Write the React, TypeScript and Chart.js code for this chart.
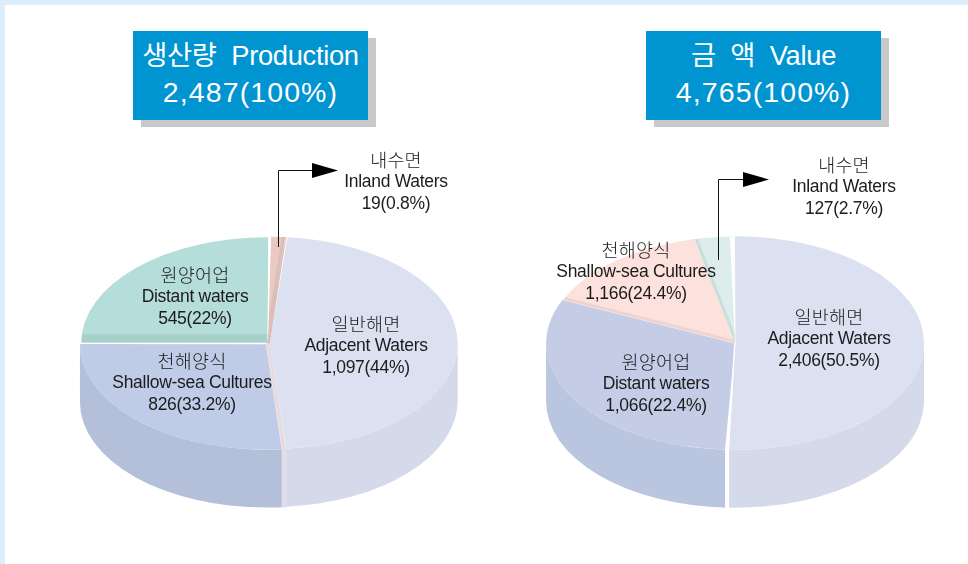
import React, { useEffect, useRef } from "react";
import { Chart, registerables } from "chart.js";

Chart.register(...registerables);

// Categories and printed figures, as they read in the picture.
const productionLabels = ["Adjacent Waters", "Shallow-sea Cultures", "Distant waters", "Inland Waters"];
const valueLabels = ["Adjacent Waters", "Distant waters", "Shallow-sea Cultures", "Inland Waters"];
const productionPrinted = ["1,097(44%)", "826(33.2%)", "545(22%)", "19(0.8%)"];
const valuePrinted = ["2,406(50.5%)", "1,066(22.4%)", "1,166(24.4%)", "127(2.7%)"];
const productionKorean = ["일반해면", "천해양식", "원양어업", "내수면"];
const valueKorean = ["일반해면", "원양어업", "천해양식", "내수면"];

// Slice sweeps in degrees as actually drawn in the picture
// (the printed source figure is not drawn to scale).
const productionSweep = [169.9, 95, 90.3, 4.8];
const valueSweep = [182.2, 112, 53.6, 12.2];

const FONT = '"Liberation Sans", "Noto Sans CJK KR", sans-serif';
const K = 0.566;
const DEPTH = 58;

type Wedge = { angle: number; w: number; from: number; to: number; color: string; wall: string };
type Bevel = { index: number; edge: "start" | "end"; width: number; color: string };
type PieCfg = {
  cx: number;
  cy: number;
  radius: number;
  rotation: number;
  data: number[];
  labels: string[];
  colors: string[];
  walls: string[];
  offsets: number[];
  bevels: Bevel[];
  wedges: Wedge[];
};

const productionPie: PieCfg = {
  cx: 268,
  cy: 343,
  radius: 186,
  rotation: 5.2,
  data: productionSweep,
  labels: productionLabels,
  colors: ["#dce1f1", "#c0cce7", "#b5ddd9", "#e9c9c1"],
  walls: ["#d5daea", "#b4bfd9", "#a5cfcb", "#dcbdb8"],
  offsets: [2, 3, 1, 1],
  bevels: [
    { index: 2, edge: "start", width: 8, color: "#a6cfca" },
    { index: 3, edge: "end", width: 3, color: "#dcbdb8" },
  ],
  wedges: [
    { angle: 0.5, w: 3, from: 0, to: 0, color: "#ffffff", wall: "#ffffff" },
    { angle: 5.4, w: 1, from: -1, to: 2, color: "#dcbdb8", wall: "#ffffff" },
    { angle: 175.1, w: 4, from: -2, to: 2, color: "#e6dbe0", wall: "#e2dde6" },
  ],
};

const valuePie: PieCfg = {
  cx: 735,
  cy: 343,
  radius: 188,
  rotation: -0.2,
  data: valueSweep,
  labels: valueLabels,
  colors: ["#dce1f1", "#c5cde6", "#fde1dc", "#ddedec"],
  walls: ["#d5daea", "#bac5e0", "#eed2ce", "#c9dfde"],
  offsets: [0.5, 1, 0, 0],
  bevels: [
    { index: 2, edge: "start", width: 3, color: "#eed2ce" },
    { index: 3, edge: "start", width: 3, color: "#c9dfde" },
  ],
  wedges: [
    { angle: 359.2, w: 5, from: 0, to: 0, color: "#ffffff", wall: "#ffffff" },
    { angle: 182.4, w: 4, from: 0, to: 0, color: "#ffffff", wall: "#ffffff" },
  ],
};

const SIZE = 420;

// Where the arc element really paints a slice: it moves the slice by the
// offset and grows the radius by offset * (1 - sin(circumference)).
function sliceGeometry(a: any, off: number) {
  const mid = (a.startAngle + a.endAngle) / 2;
  const circ = a.endAngle - a.startAngle;
  const fix = 1 - Math.sin(Math.min(Math.PI, circ));
  return { dx: off * Math.cos(mid), dy: off * Math.sin(mid), R: a.outerRadius + off * fix };
}

function pie3dPlugin(cfg: PieCfg) {
  return {
    id: "pie3d",
    beforeDatasetsDraw(chart: any) {
      const ctx = chart.ctx;
      const arcs = chart.getDatasetMeta(0).data;
      ctx.save();
      arcs.forEach((a: any, i: number) => {
        const g = sliceGeometry(a, cfg.offsets[i]);
        const x = a.x + g.dx;
        const y = a.y + g.dy * K;
        for (const shift of [-2 * Math.PI, 0, 2 * Math.PI]) {
          const from = Math.max(a.startAngle, shift);
          const to = Math.min(a.endAngle, shift + Math.PI);
          if (to <= from) continue;
          ctx.beginPath();
          ctx.ellipse(x, y, g.R, g.R * K, 0, from, to);
          ctx.ellipse(x, y + DEPTH, g.R, g.R * K, 0, to, from, true);
          ctx.closePath();
          ctx.fillStyle = cfg.walls[i];
          ctx.fill();
        }
      });
      const py = arcs[0].y;
      ctx.translate(0, py);
      ctx.scale(1, K);
      ctx.translate(0, -py);
    },
    afterDatasetsDraw(chart: any) {
      const ctx = chart.ctx;
      const arcs = chart.getDatasetMeta(0).data;
      // cut faces along some slice edges
      cfg.bevels.forEach((b) => {
        const a = arcs[b.index];
        const g = sliceGeometry(a, cfg.offsets[b.index]);
        const x = a.x + g.dx;
        const y = a.y + g.dy;
        const ang = b.edge === "start" ? a.startAngle : a.endAngle;
        ctx.save();
        ctx.beginPath();
        ctx.moveTo(x, y);
        ctx.arc(x, y, g.R, a.startAngle, a.endAngle);
        ctx.closePath();
        ctx.clip();
        ctx.beginPath();
        ctx.moveTo(x, y);
        ctx.lineTo(x + g.R * Math.cos(ang), y + g.R * Math.sin(ang));
        const horizontalness = Math.abs(Math.cos(ang));
        ctx.lineWidth = (2 * b.width) / (horizontalness * K + (1 - horizontalness));
        ctx.strokeStyle = b.color;
        ctx.stroke();
        ctx.restore();
      });
      ctx.restore();
      // gaps and slivers between slices
      const a0 = arcs[0];
      const R = a0.outerRadius + cfg.offsets[0];
      cfg.wedges.forEach((wd) => {
        const t = (wd.angle * Math.PI) / 180;
        const px = a0.x + R * Math.sin(t);
        const py = a0.y - R * K * Math.cos(t);
        ctx.beginPath();
        ctx.moveTo(a0.x + wd.from, a0.y);
        ctx.lineTo(a0.x + wd.to, a0.y);
        ctx.lineTo(px + wd.w / 2, py);
        ctx.lineTo(px - wd.w / 2, py);
        ctx.closePath();
        ctx.fillStyle = wd.color;
        ctx.fill();
        if (Math.cos(t) < 0) {
          ctx.fillStyle = wd.wall;
          ctx.fillRect(px - wd.w / 2, py - 0.5, wd.w, DEPTH + 1);
        }
      });
    },
  };
}

function Pie({ cfg }: { cfg: PieCfg }) {
  const ref = useRef<HTMLCanvasElement | null>(null);
  useEffect(() => {
    const chart = new Chart(ref.current as HTMLCanvasElement, {
      type: "pie",
      data: {
        labels: cfg.labels,
        datasets: [
          {
            data: cfg.data,
            backgroundColor: cfg.colors,
            offset: cfg.offsets.map((o) => o * 4),
            borderWidth: 0,
            clip: false,
          } as any,
        ],
      },
      options: {
        responsive: false,
        animation: false,
        rotation: cfg.rotation,
        // the controller also takes half of the largest offset option off the radius
        layout: { padding: SIZE / 2 - cfg.radius - Math.max(...cfg.offsets) * 2 },
        events: [],
        plugins: { legend: { display: false }, tooltip: { enabled: false } },
      },
      plugins: [pie3dPlugin(cfg) as any],
    });
    return () => chart.destroy();
  }, [cfg]);
  return (
    <canvas
      ref={ref}
      width={SIZE}
      height={SIZE}
      style={{
        position: "absolute",
        left: cfg.cx - SIZE / 2,
        top: cfg.cy - SIZE / 2,
        width: SIZE,
        height: SIZE,
      }}
    />
  );
}

function Label({ x, y, lines }: { x: number; y: number; lines: string[] }) {
  return (
    <div
      style={{
        position: "absolute",
        left: x - 120,
        top: y,
        width: 240,
        textAlign: "center",
        fontFamily: FONT,
        fontSize: 17.5,
        lineHeight: "21.4px",
        letterSpacing: "-0.3px",
        color: "#1c1c1c",
      }}
    >
      <div style={{ fontSize: 18.5, fontWeight: 300, letterSpacing: "0.2px" }}>{lines[0]}</div>
      <div>{lines[1]}</div>
      <div>{lines[2]}</div>
    </div>
  );
}

function Title({ x, lines }: { x: number; lines: string[] }) {
  return (
    <>
      <div style={{ position: "absolute", left: x + 8, top: 38, width: 235, height: 89, background: "#c9c9c9" }} />
      <div
        style={{
          position: "absolute",
          left: x,
          top: 31,
          width: 235,
          height: 89,
          background: "#0094d0",
          color: "#ffffff",
          textAlign: "center",
          fontFamily: FONT,
          whiteSpace: "pre",
        }}
      >
        <div style={{ fontSize: 27.3, lineHeight: "31px", marginTop: 9, letterSpacing: "-0.3px" }}>{lines[0]}</div>
        <div style={{ fontSize: 28.5, lineHeight: "36px", marginTop: 3, letterSpacing: "1.1px" }}>{lines[1]}</div>
      </div>
    </>
  );
}

function Arrow({ x, y0, y1, x1 }: { x: number; y0: number; y1: number; x1: number }) {
  return (
    <svg style={{ position: "absolute", left: 0, top: 0 }} width={968} height={564}>
      <path d={`M${x + 0.5} ${y0} V${y1 + 0.5} H${x1}`} fill="none" stroke="#111" strokeWidth={1} />
      <polygon points={`${x1},${y1 - 7} ${x1 + 26},${y1 + 0.5} ${x1},${y1 + 8}`} fill="#000" />
    </svg>
  );
}

export default function App() {
  return (
    <div
      style={{
        position: "fixed",
        left: 0,
        top: 0,
        width: 968,
        height: 564,
        overflow: "hidden",
        background: "#ffffff",
      }}
    >
      <div style={{ position: "absolute", left: 0, top: 0, width: 968, height: 5, background: "#dceefb" }} />
      <div style={{ position: "absolute", left: 0, top: 0, width: 5, height: 564, background: "#dceefb" }} />
      <Pie cfg={productionPie} />
      <Pie cfg={valuePie} />
      <Title x={133} lines={["생산량  Production", "2,487(100%)"]} />
      <Title x={646} lines={["금  액  Value", "4,765(100%)"]} />
      <Arrow x={278} y0={247} y1={170} x1={312} />
      <Arrow x={718} y0={260} y1={179} x1={743} />
      <Label x={396} y={150} lines={[productionKorean[3], productionLabels[3], productionPrinted[3]]} />
      <Label x={366} y={314} lines={[productionKorean[0], productionLabels[0], productionPrinted[0]]} />
      <Label x={195} y={265} lines={[productionKorean[2], productionLabels[2], productionPrinted[2]]} />
      <Label x={192} y={351} lines={[productionKorean[1], productionLabels[1], productionPrinted[1]]} />
      <Label x={844} y={155} lines={[valueKorean[3], valueLabels[3], valuePrinted[3]]} />
      <Label x={829} y={307} lines={[valueKorean[0], valueLabels[0], valuePrinted[0]]} />
      <Label x={636} y={240} lines={[valueKorean[2], valueLabels[2], valuePrinted[2]]} />
      <Label x={656} y={352} lines={[valueKorean[1], valueLabels[1], valuePrinted[1]]} />
    </div>
  );
}
